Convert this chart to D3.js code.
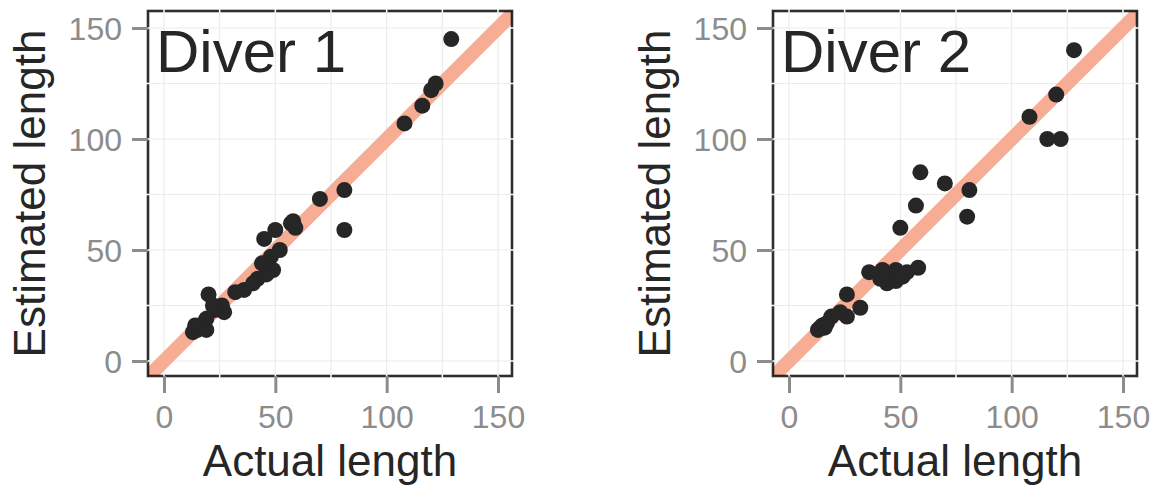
<!DOCTYPE html>
<html>
<head>
<meta charset="utf-8">
<script src="https://cdn.jsdelivr.net/npm/d3@7"></script>
<style>
html,body{margin:0;padding:0;background:#fff;}
svg{display:block;font-family:"Liberation Sans",Arial,Helvetica,sans-serif;}
</style>
</head>
<body>
<svg id="chart" width="1161" height="486"></svg>
<script>
// ---- data ----
const panelTitles = ["Diver 1", "Diver 2"];
const tickValues = [0, 50, 100, 150];
const gridValues = [0, 25, 50, 75, 100, 125, 150];
const xTitle = "Actual length";
const yTitle = "Estimated length";

const diver1Actual    = [129,122,120,116,108,81,81,70,57,59,58,50,45,52,48,44,49,46,42,40,36,32,20,26,27,23,22,19,13,15,17,18,14,19];
const diver1Estimated = [145,125,122,115,107,77,59,73,62,60,63,59,55,50,47,44,41,39,37,35,32,31,30,25,22,23,25,19,13,14,15,17,16,14];

const diver2Actual    = [128,120,108,116,122,81,80,70,59,57,50,58,36,42,48,53,44,48,46,41,51,26,32,26,23,19,17,15,13,14,16];
const diver2Estimated = [140,120,110,100,100,77,65,80,85,70,60,42,40,41,41,40,35,36,38,37,38,30,24,20,22,20,17,16,14,15,15];

const panels = [
  {title: panelTitles[0], xs: diver1Actual, ys: diver1Estimated, dx: 0},
  {title: panelTitles[1], xs: diver2Actual, ys: diver2Estimated, dx: 625}
];

// ---- layout ----
const P = {left:148, right:512, top:11, bottom:376};
const svg = d3.select("#chart");
const ink = "#262626", tickCol = "#8c8c8c", gridCol = "#ebebeb", lineCol = "#F7AD93";

panels.forEach((p, i) => {
  const g = svg.append("g").attr("transform", `translate(${p.dx},0)`);
  const x = d3.scaleLinear().domain([0,150]).range([164, 498]);
  const y = d3.scaleLinear().domain([0,150]).range([361, 28]);

  const clipId = "clip" + i;
  g.append("clipPath").attr("id", clipId).append("rect")
    .attr("x", P.left).attr("y", P.top).attr("width", P.right-P.left).attr("height", P.bottom-P.top);

  // grid
  g.append("g").selectAll("line.gx").data(gridValues).join("line")
    .attr("x1", d=>x(d)).attr("x2", d=>x(d)).attr("y1", P.top).attr("y2", P.bottom)
    .attr("stroke", gridCol).attr("stroke-width", 1.2);
  g.append("g").selectAll("line.gy").data(gridValues).join("line")
    .attr("y1", d=>y(d)).attr("y2", d=>y(d)).attr("x1", P.left).attr("x2", P.right)
    .attr("stroke", gridCol).attr("stroke-width", 1.2);

  // identity line
  g.append("line").attr("clip-path", `url(#${clipId})`)
    .attr("x1", x(-20)).attr("y1", y(-20)).attr("x2", x(170)).attr("y2", y(170))
    .attr("stroke", lineCol).attr("stroke-width", 14);

  // points
  g.append("g").selectAll("circle").data(p.xs.map((v,k)=>[v,p.ys[k]])).join("circle")
    .attr("cx", d=>x(d[0])).attr("cy", d=>y(d[1])).attr("r", 8).attr("fill", ink);

  // border
  g.append("rect").attr("x", P.left).attr("y", P.top)
    .attr("width", P.right-P.left).attr("height", P.bottom-P.top)
    .attr("fill", "none").attr("stroke", "rgba(0,0,0,0.82)").attr("stroke-width", 2.6);

  // light gaps where grid lines cross the border
  const gap = g.append("g").attr("stroke", "#f4f4f4").attr("stroke-width", 1.6);
  gridValues.forEach(v => {
    gap.append("line").attr("x1", x(v)).attr("x2", x(v)).attr("y1", P.top-2).attr("y2", P.top+2);
    gap.append("line").attr("x1", x(v)).attr("x2", x(v)).attr("y1", P.bottom-2).attr("y2", P.bottom+2);
    gap.append("line").attr("y1", y(v)).attr("y2", y(v)).attr("x1", P.left-2).attr("x2", P.left+2);
    gap.append("line").attr("y1", y(v)).attr("y2", y(v)).attr("x1", P.right-2).attr("x2", P.right+2);
  });

  // axes
  const xAxis = d3.axisBottom(x).tickValues(tickValues).tickSize(17).tickPadding(14).tickFormat(d3.format("d"));
  const yAxis = d3.axisLeft(y).tickValues(tickValues).tickSize(16).tickPadding(10).tickFormat(d3.format("d"));
  const ax = g.append("g").attr("transform", `translate(0,${P.bottom})`).call(xAxis);
  const ay = g.append("g").attr("transform", `translate(${P.left},0)`).call(yAxis);
  [ax, ay].forEach(a => {
    a.select(".domain").remove();
    a.selectAll(".tick line").attr("stroke", tickCol).attr("stroke-width", 3);
    a.selectAll(".tick text").attr("fill", tickCol).attr("font-size", 32)
      .attr("font-family", "'Liberation Sans',Arial,sans-serif");
  });
  ax.selectAll(".tick text").attr("dy", null).attr("y", 52);
  ay.selectAll(".tick text").attr("dy", "0.36em").attr("x", -26);

  // titles
  g.append("text").attr("x", 156).attr("y", 72).attr("font-size", 60).attr("fill", ink).text(p.title);
  g.append("text").attr("x", (P.left+P.right)/2).attr("y", 476).attr("text-anchor", "middle")
    .attr("font-size", 44).attr("fill", ink).text(xTitle);
  g.append("text").attr("transform", `translate(45,${(P.top+P.bottom)/2}) rotate(-90)`)
    .attr("text-anchor", "middle").attr("font-size", 44).attr("fill", ink).text(yTitle);
});
</script>
</body>
</html>
